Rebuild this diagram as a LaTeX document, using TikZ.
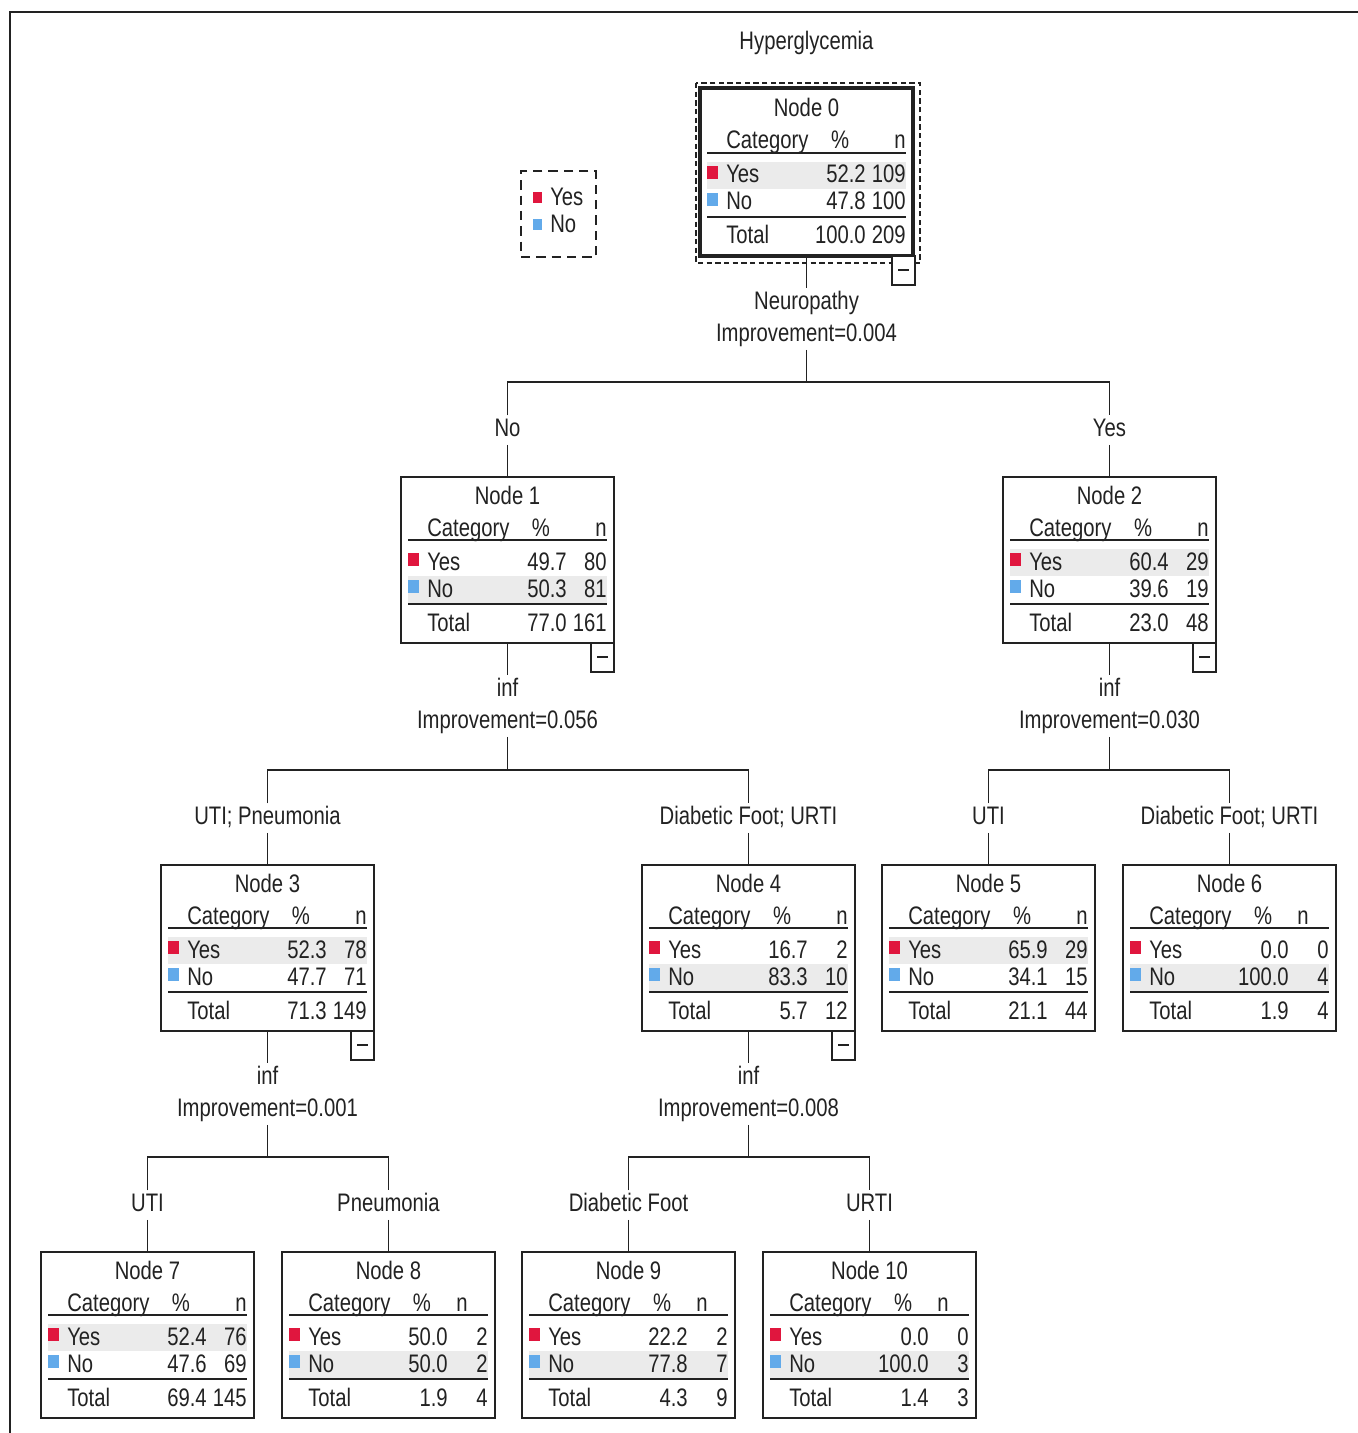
\documentclass[tikz,border=0pt]{standalone}
\usepackage{fontspec}
\setmainfont{Liberation Sans}[FakeStretch=0.8]
\definecolor{cyes}{HTML}{E0163E}
\definecolor{cno}{HTML}{62AAEA}
\definecolor{bandc}{HTML}{EBEBEB}
\definecolor{ink}{HTML}{222222}
\tikzset{
 boxextra/.style={},
 box/.style={draw=ink, line width=1.4pt, minimum width=159.75pt, minimum height=124.5pt, inner sep=0pt, boxextra},
 txt/.style={inner sep=0pt, text=ink, font=\fontsize{19}{21}\selectfont},
 lbl/.style={inner xsep=1pt, inner ysep=2pt, text=ink, font=\fontsize{19}{21}\selectfont, text height=13.6pt, text depth=4pt, anchor=base},
 conn/.style={draw=ink, line width=1.4pt},
 rulel/.style={draw=ink, line width=1.5pt},
 mboxs/.style={draw=ink, line width=1.3pt, fill=white}
}
\newcommand{\hlrow}{1}
\newcommand{\nhx}{206}
\newcommand{\cdy}{0}
% #1 name, #2 x0,y0, #3 number, #4 yes%, #5 yes n, #6 no%, #7 no n, #8 total%, #9 total n
\newcommand{\tnode}[9]{%
\begin{scope}[shift={(#2)}]
 \node[box] (#1) at (106.5,83+\cdy/2) {};
 \begin{scope}[shift={(0,\cdy)}]
 \ifnum\hlrow=1 \fill[bandc] (7,72) rectangle (206,99); \else \fill[bandc] (7,99) rectangle (206,126); \fi
 \node[txt,anchor=base] (#1-title) at (106.5,27) {Node #3};
 \node[txt,anchor=base west] (#1-cat) at (26,59) {Category};
 \node[txt,anchor=base] (#1-pc) at (140,59) {\%};
 \ifnum\nhx=206 \node[txt,anchor=base east] (#1-nh) at (206,59) {n};\else \node[txt,anchor=base] (#1-nh) at (\nhx,59) {n};\fi
 \draw[rulel] (7,63) -- (206,63);
 \fill[cyes] (7,76) rectangle (18,89);
 \node[txt,anchor=base west] (#1-y) at (26,93) {Yes};
 \node[txt,anchor=base east] (#1-yp) at (166,93) {#4};
 \node[txt,anchor=base east] (#1-yn) at (206,93) {#5};
 \fill[cno] (7,103) rectangle (18,116);
 \node[txt,anchor=base west] (#1-n) at (26,120) {No};
 \node[txt,anchor=base east] (#1-np) at (166,120) {#6};
 \node[txt,anchor=base east] (#1-nn) at (206,120) {#7};
 \draw[rulel] (7,127) -- (206,127);
 \node[txt,anchor=base west] (#1-t) at (26,154) {Total};
 \node[txt,anchor=base east] (#1-tp) at (166,154) {#8};
 \node[txt,anchor=base east] (#1-tn) at (206,154) {#9};
 \end{scope}
\end{scope}}
\newcommand{\minusbox}[1]{%
\begin{scope}[shift={(#1)}]
 \draw[mboxs] (190,166) rectangle (213,195);
 \draw[ink, line width=1.2pt] (196,180) -- (207,180);
\end{scope}}
\begin{document}
\begin{tikzpicture}[x=0.75pt,y=-0.75pt]
\useasboundingbox (0,0) rectangle (1358,1433);
\fill[white] (0,0) rectangle (1358,1433);
\draw[ink, line width=1.2pt] (1358,12) -- (10,12) -- (10,1433);

% title
\node[lbl] (title) at (806.5,49.5) {Hyperglycemia};

% legend
\node[draw=ink, dashed, dash pattern=on 7pt off 4.5pt, line width=1.2pt, minimum width=56.25pt, minimum height=64.5pt, inner sep=0pt] (leg) at (558.5,214) {};
\fill[cyes] (533,192) rectangle (542,203);
\fill[cno] (533,219) rectangle (542,230);
\node[txt,anchor=base west] (legy) at (550,205.5) {Yes};
\node[txt,anchor=base west] (legn) at (550,232.5) {No};

% nodes
\begingroup
\tikzset{box/.append style={line width=3pt, minimum height=126pt}}
\renewcommand{\hlrow}{1}\renewcommand{\nhx}{206}\renewcommand{\cdy}{2}
\tnode{n0}{700,88}{0}{52.2}{109}{47.8}{100}{100.0}{209}
\endgroup
\draw[ink, line width=1.2pt, dash pattern=on 4pt off 2.5pt] (696,83) rectangle (920,263);

\renewcommand{\hlrow}{2}\renewcommand{\nhx}{206}
\tnode{n1}{401,477}{1}{49.7}{80}{50.3}{81}{77.0}{161}
\renewcommand{\hlrow}{1}
\tnode{n2}{1003,477}{2}{60.4}{29}{39.6}{19}{23.0}{48}
\renewcommand{\hlrow}{1}
\tnode{n3}{161,865}{3}{52.3}{78}{47.7}{71}{71.3}{149}
\renewcommand{\hlrow}{2}
\tnode{n4}{642,865}{4}{16.7}{2}{83.3}{10}{5.7}{12}
\renewcommand{\hlrow}{1}
\tnode{n5}{882,865}{5}{65.9}{29}{34.1}{15}{21.1}{44}
\renewcommand{\hlrow}{2}\renewcommand{\nhx}{180}
\tnode{n6}{1123,865}{6}{0.0}{0}{100.0}{4}{1.9}{4}
\renewcommand{\hlrow}{1}\renewcommand{\nhx}{206}
\tnode{n7}{41,1252}{7}{52.4}{76}{47.6}{69}{69.4}{145}
\renewcommand{\hlrow}{2}\renewcommand{\nhx}{180}
\tnode{n8}{282,1252}{8}{50.0}{2}{50.0}{2}{1.9}{4}
\tnode{n9}{522,1252}{9}{22.2}{2}{77.8}{7}{4.3}{9}
\tnode{n10}{763,1252}{10}{0.0}{0}{100.0}{3}{1.4}{3}

% split labels
\node[lbl] (s0a) at (806.5,309.5) {Neuropathy};
\node[lbl] (s0b) at (806.5,341.5) {Improvement=0.004};
\coordinate (b0) at (806.5,382);
\node[lbl] (l1) at (507.5,436.5) {No};
\node[lbl] (l2) at (1109.5,436.5) {Yes};

\node[lbl] (s1a) at (507.5,696.5) {inf};
\node[lbl] (s1b) at (507.5,728.5) {Improvement=0.056};
\coordinate (b1) at (507.5,770);
\node[lbl] (l3) at (267.5,824.5) {UTI; Pneumonia};
\node[lbl] (l4) at (748.5,824.5) {Diabetic Foot; URTI};

\node[lbl] (s2a) at (1109.5,696.5) {inf};
\node[lbl] (s2b) at (1109.5,728.5) {Improvement=0.030};
\coordinate (b2) at (1109.5,770);
\node[lbl] (l5) at (988.5,824.5) {UTI};
\node[lbl] (l6) at (1229.5,824.5) {Diabetic Foot; URTI};

\node[lbl] (s3a) at (267.5,1084.5) {inf};
\node[lbl] (s3b) at (267.5,1116.5) {Improvement=0.001};
\coordinate (b3) at (267.5,1157);
\node[lbl] (l7) at (147.5,1211.5) {UTI};
\node[lbl] (l8) at (388.5,1211.5) {Pneumonia};

\node[lbl] (s4a) at (748.5,1084.5) {inf};
\node[lbl] (s4b) at (748.5,1116.5) {Improvement=0.008};
\coordinate (b4) at (748.5,1157);
\node[lbl] (l9) at (628.5,1211.5) {Diabetic Foot};
\node[lbl] (l10) at (869.5,1211.5) {URTI};

% connectors
\foreach \p/\s/\b/\L/\R/\cl/\cr in {n0/s0/b0/l1/l2/n1/n2, n1/s1/b1/l3/l4/n3/n4, n2/s2/b2/l5/l6/n5/n6, n3/s3/b3/l7/l8/n7/n8, n4/s4/b4/l9/l10/n9/n10}{
 \draw[conn] (\p.south) -- (\s a.north);
 \draw[conn] (\s b.south) -- (\b);
 \draw[conn] (\L.north) |- (\b) -| (\R.north);
 \draw[conn] (\L.south) -- (\cl.north);
 \draw[conn] (\R.south) -- (\cr.north);
}

% collapse boxes
\minusbox{702,90}
\minusbox{401,477}
\minusbox{1003,477}
\minusbox{161,865}
\minusbox{642,865}
\end{tikzpicture}
\end{document}
